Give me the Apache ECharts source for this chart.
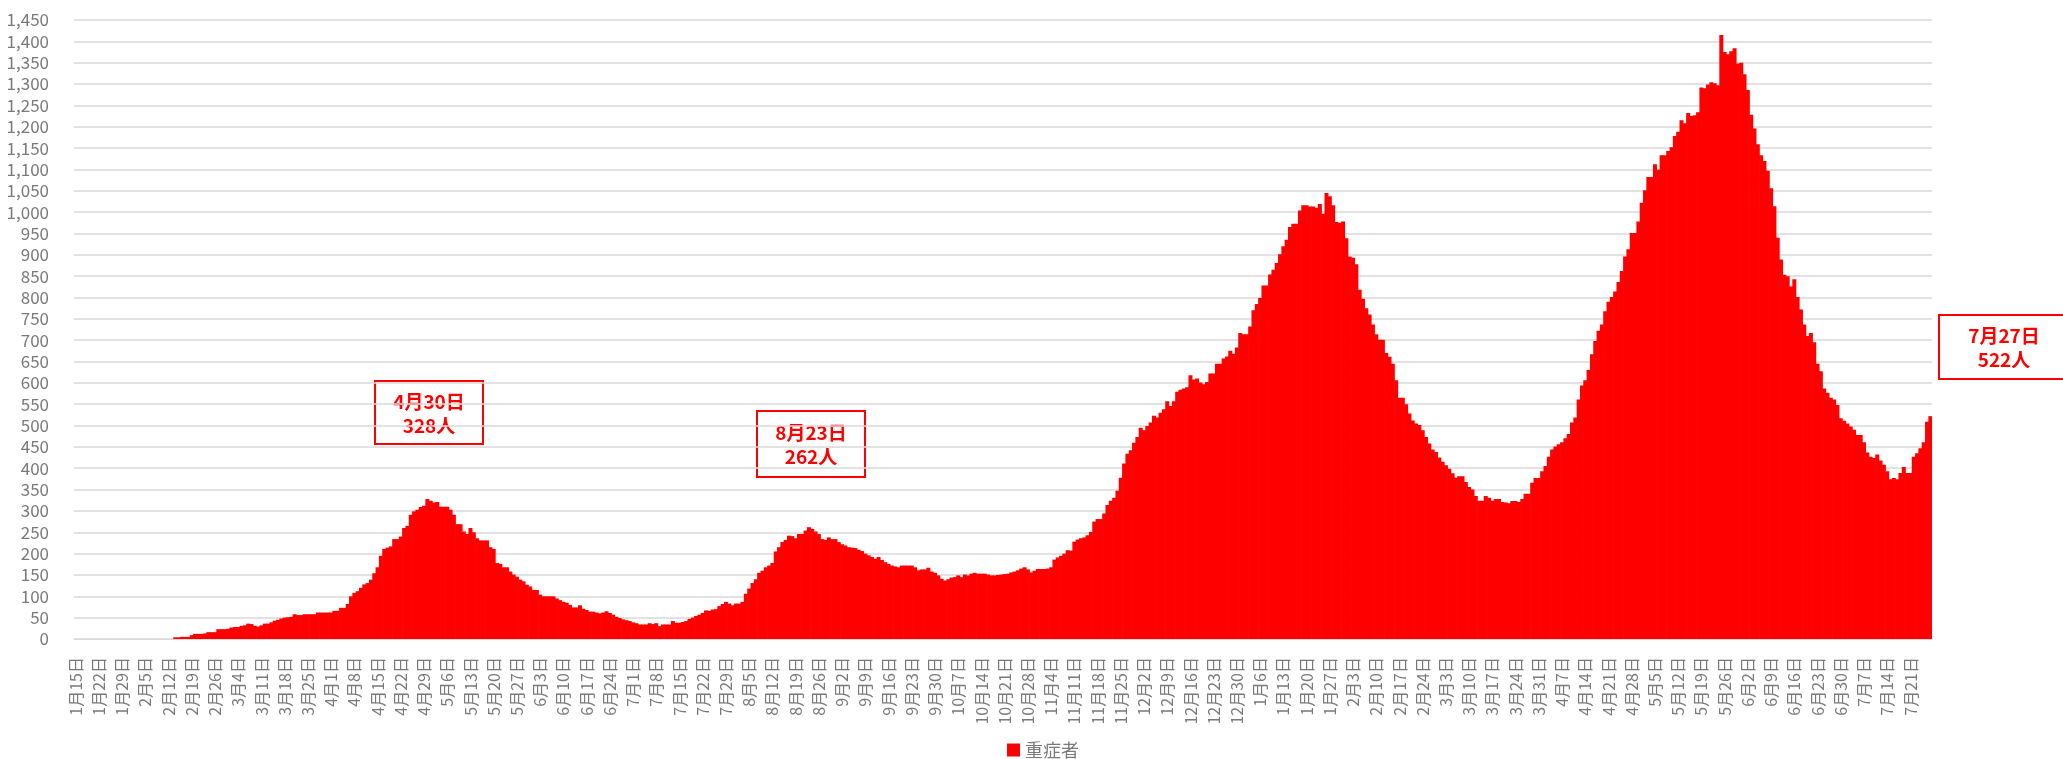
<!DOCTYPE html>
<html>
<head>
<meta charset="utf-8">
<title>重症者</title>
<script src="https://cdn.jsdelivr.net/npm/echarts@6/dist/echarts.min.js"></script>
<style>
  html, body { margin: 0; padding: 0; background: #fff; }
  #chart { width: 2063px; height: 759px; }
</style>
</head>
<body>
<div id="chart"></div>
<script>
// daily count of severe cases, one row per week (labels fall on the first day of each row)
const startDate = new Date(2020, 0, 15)

const severe2020 = [
  0, 0, 0, 0, 0, 0, 0,
  0, 0, 0, 0, 0, 0, 0,
  0, 0, 0, 0, 0, 0, 0,
  0, 0, 0, 0, 0, 0, 0,
  0, 0, 4, 4, 5, 5, 5,
  9, 12, 12, 12, 13, 16, 16,
  16, 23, 23, 23, 24, 27, 28,
  28, 31, 32, 36, 35, 31, 29,
  32, 36, 36, 39, 43, 45, 48,
  50, 51, 52, 58, 56, 56, 58,
  58, 58, 58, 62, 62, 62, 62,
  62, 66, 66, 73, 73, 82, 100,
  108, 112, 120, 128, 131, 139, 154,
  168, 195, 211, 214, 217, 234, 234,
  240, 260, 265, 291, 299, 303, 309,
  312, 328, 324, 320, 321, 310, 310,
  310, 303, 291, 269, 269, 252, 246,
  260, 250, 236, 231, 231, 231, 215,
  211, 178, 176, 168, 168, 158, 151,
  146, 139, 135, 127, 123, 115, 115,
  104, 100, 100, 100, 100, 95, 91,
  87, 85, 80, 74, 74, 79, 71,
  68, 64, 64, 62, 60, 62, 65,
  61, 57, 52, 49, 46, 44, 42,
  39, 37, 34, 34, 34, 37, 35,
  37, 30, 34, 34, 34, 42, 38,
  38, 40, 42, 47, 50, 54, 57,
  61, 67, 66, 69, 70, 77, 82,
  87, 83, 79, 83, 83, 87, 106,
  118, 131, 140, 155, 160, 168, 172,
  178, 205, 215, 227, 232, 242, 241,
  236, 246, 246, 254, 262, 258, 252,
  246, 234, 232, 238, 234, 234, 227,
  222, 219, 215, 214, 213, 209, 206,
  200, 196, 192, 188, 192, 185, 180,
  176, 172, 170, 168, 172, 172, 172,
  172, 168, 161, 163, 163, 167, 158,
  155, 149, 141, 137, 140, 144, 145,
  149, 145, 151, 149, 153, 155, 153,
  153, 153, 151, 149, 149, 150, 151,
  152, 153, 156, 158, 161, 165, 168,
  163, 156, 160, 164, 164, 164, 165,
  168, 186, 191, 195, 200, 208, 207,
  228, 233, 236, 238, 243, 251, 275,
  281, 281, 294, 314, 324, 331, 347,
  378, 411, 434, 442, 460, 473, 495,
  489, 499, 507, 523, 519, 530, 538,
  557, 546, 557, 579, 584, 587, 590,
  618, 608, 610, 601, 597, 602, 622,
  622, 645, 645, 657, 662, 675, 668,
  683, 717
]

const severe2021 = [
                 714, 714, 732, 770, 785,
  799, 828, 828, 854, 865, 881, 901,
  920, 935, 965, 973, 973, 1004, 1016,
  1016, 1013, 1013, 1010, 1019, 996, 1045,
  1037, 1016, 977, 975, 978, 939, 896,
  893, 878, 818, 797, 775, 760, 737,
  714, 701, 701, 670, 661, 645, 606,
  565, 565, 550, 528, 512, 505, 501,
  489, 473, 458, 444, 438, 425, 415,
  407, 399, 388, 378, 381, 381, 368,
  356, 350, 335, 324, 324, 335, 331,
  324, 328, 328, 321, 320, 318, 323,
  323, 321, 328, 340, 340, 366, 377,
  377, 393, 405, 427, 444, 451, 456,
  461, 470, 480, 507, 519, 561, 594,
  606, 630, 667, 698, 722, 737, 768,
  790, 801, 814, 836, 862, 896, 913,
  951, 951, 978, 1022, 1051, 1082, 1082,
  1112, 1099, 1133, 1133, 1143, 1152, 1178,
  1188, 1215, 1208, 1232, 1225, 1227, 1234,
  1292, 1290, 1299, 1304, 1302, 1297, 1415,
  1375, 1370, 1377, 1384, 1348, 1350, 1323,
  1286, 1228, 1196, 1159, 1133, 1120, 1097,
  1056, 1014, 940, 889, 853, 850, 826,
  843, 801, 772, 737, 710, 717, 695,
  645, 627, 587, 577, 565, 561, 548,
  517, 511, 505, 498, 490, 478, 478,
  461, 437, 427, 424, 432, 418, 408,
  393, 374, 377, 374, 389, 403, 389,
  389, 427, 435, 447, 461, 509, 522
]

// days that get a callout box (index into the day list)
const calloutDays = [106, 221, 559]

const severe = severe2020.concat(severe2021)

const days = []
for (let i = 0; i < severe.length; i++) {
  const d = new Date(startDate.getFullYear(), startDate.getMonth(), startDate.getDate() + i)
  days.push((d.getMonth() + 1) + '月' + d.getDate() + '日')
}

const FONT = '"Noto Sans CJK JP", "Noto Sans", sans-serif'
const GRAY = '#7a7a7a'
const RED = '#ff0000'

// callout box placement on the page
const boxes = [
  { x: 375, y: 381, w: 108, h: 63 },
  { x: 757, y: 411, w: 108, h: 66 },
  { x: 1939, y: 315, w: 130, h: 64 }
]

const graphic = calloutDays.map((idx, n) => {
  const b = boxes[n]
  return {
    type: 'group',
    x: b.x,
    y: b.y,
    z: 100,
    children: [
      {
        type: 'rect',
        shape: { x: 0, y: 0, width: b.w, height: b.h },
        style: { fill: '#fff', stroke: RED, lineWidth: 2 }
      },
      {
        type: 'text',
        x: b.w / 2,
        y: b.h / 2 + 1,
        style: {
          text: days[idx] + '\n' + severe[idx] + '人',
          fill: RED,
          fontSize: 19,
          fontWeight: 'bold',
          fontFamily: FONT,
          lineHeight: 24,
          align: 'center',
          verticalAlign: 'middle'
        }
      }
    ]
  }
})

const chart = echarts.init(document.getElementById('chart'))

chart.setOption({
  animation: false,
  grid: { left: 74, right: 131, top: 20, bottom: 120, containLabel: false },
  legend: {
    data: ['重症者'],
    left: 1002,
    top: 736,
    icon: 'rect',
    itemWidth: 13,
    itemHeight: 13,
    textStyle: { color: GRAY, fontSize: 18, fontFamily: FONT }
  },
  xAxis: {
    type: 'category',
    data: days,
    axisLine: { lineStyle: { color: '#d9d9d9', width: 1 } },
    axisTick: { interval: 6, length: 5, lineStyle: { color: '#d9d9d9' } },
    axisLabel: {
      interval: 6,
      rotate: 90,
      margin: 18,
      color: GRAY,
      fontSize: 16,
      fontFamily: FONT
    }
  },
  yAxis: {
    type: 'value',
    min: 0,
    max: 1450,
    interval: 50,
    axisLine: { show: false },
    axisTick: { show: false },
    axisLabel: {
      margin: 25,
      color: GRAY,
      fontSize: 17,
      fontFamily: FONT,
      formatter: v => v.toLocaleString('en-US')
    },
    splitLine: { lineStyle: { color: '#d9d9d9', width: 1.5 } }
  },
  series: [{
    name: '重症者',
    type: 'bar',
    data: severe,
    // slightly wider than the band so neighbouring bars overlap and leave no seams
    barWidth: 4,
    itemStyle: { color: RED }
  }],
  graphic
})
</script>
</body>
</html>
